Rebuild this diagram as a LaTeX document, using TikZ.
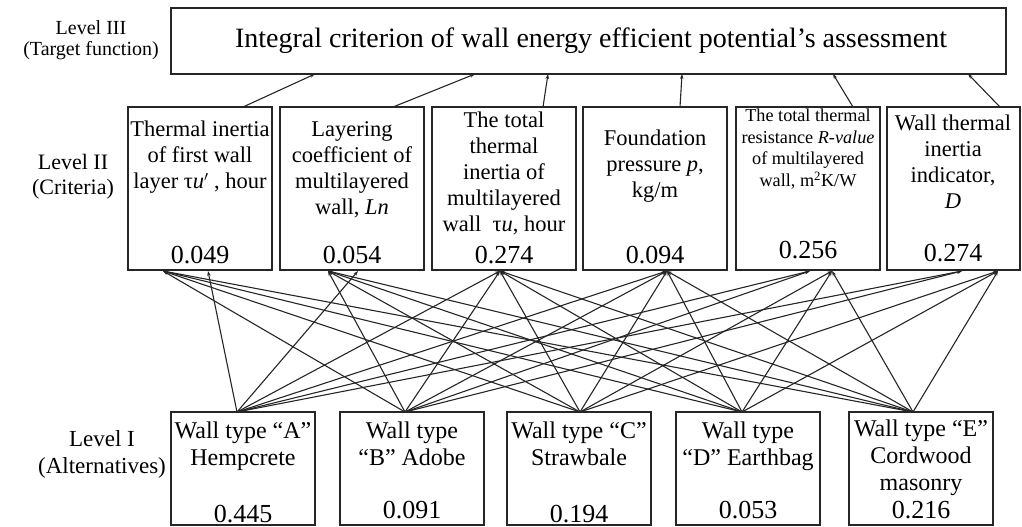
\documentclass[tikz,border=0pt]{standalone}
\usepackage{fontspec}
\setmainfont{Liberation Serif}
\usetikzlibrary{arrows.meta}
\begin{document}
\begin{tikzpicture}[x=1pt,y=-1pt,
  box/.style={draw=black!85,line width=1.5pt,anchor=north west,inner sep=0pt,outer sep=0pt},
  crit/.style={minimum width=144pt,minimum height=163pt},
  alt/.style={minimum width=144pt,minimum height=113pt},
  txt/.style={anchor=north,align=center,inner sep=0pt,font=\fontsize{22.5}{26}\selectfont},
  alttxt/.style={anchor=north,align=center,inner sep=0pt,font=\fontsize{24}{27}\selectfont},
  smalltxt/.style={anchor=north,align=center,inner sep=0pt,font=\fontsize{18.2}{21.5}\selectfont},
  num/.style={anchor=center,inner sep=0pt,font=\fontsize{26}{28}\selectfont},
  lvl/.style={align=center,inner sep=0pt},
  conn/.style={draw=black!85,line width=1.1pt,-{Stealth[length=5pt,width=3.5pt]}}]
\useasboundingbox (0,0) rectangle (1022,527);

% Level labels
\node[lvl,font=\fontsize{20}{21.5}\selectfont] (l3) at (91,40) {Level III\\(Target function)};
\node[lvl,font=\fontsize{22}{25}\selectfont] (l2) at (73,177) {Level II\\(Criteria)};
\node[lvl,font=\fontsize{23}{27}\selectfont] (l1) at (102,454) {Level I\\(Alternatives)};

% Level III
\node[box,minimum width=835pt,minimum height=66pt] (top) at (171,8) {};
\node[inner sep=0pt,font=\fontsize{28}{32}\selectfont] (toptxt) at (591,41) {Integral criterion of wall energy efficient potential's assessment};

% Level II
\node[box,crit] (c1) at (128,107) {};
\node[box,crit] (c2) at (280,107) {};
\node[box,crit] (c3) at (432,107) {};
\node[box,crit] (c4) at (583,107) {};
\node[box,crit] (c5) at (736,107) {};
\node[box,crit,minimum width=133pt] (c6) at (887,107) {};

\node[txt] (c1t) at (200,121) {Thermal inertia\\of first wall\\layer τ\textit{u}$'$ , hour};
\node[txt] (c2t) at (352,121) {Layering\\coefficient of\\multilayered\\wall, \textit{Ln}};
\node[txt] (c3t) at (504,112) {The total\\thermal\\inertia of\\multilayered\\wall\ \ τ\textit{u}, hour};
\node[txt] (c4t) at (655,130) {Foundation\\pressure \textit{p},\\kg/m};
\node[smalltxt] (c5t) at (808,109) {The total thermal\\resistance \textit{R-value}\\of multilayered\\wall, m\textsuperscript{2}K/W};
\node[txt] (c6t) at (953,115) {Wall thermal\\inertia\\indicator,\\\textit{D}};

\node[num] (c1n) at (200,255) {0.049};
\node[num] (c2n) at (352,255) {0.054};
\node[num] (c3n) at (504,255) {0.274};
\node[num] (c4n) at (655,255) {0.094};
\node[num] (c5n) at (808,250) {0.256};
\node[num] (c6n) at (953,253) {0.274};

% Level I
\node[box,alt] (aA) at (171,412) {};
\node[box,alt] (aB) at (340,412) {};
\node[box,alt] (aC) at (507,412) {};
\node[box,alt] (aD) at (676,412) {};
\node[box,alt] (aE) at (849,412) {};

\node[alttxt] (aAt) at (243,422) {Wall type “A”\\Hempcrete};
\node[alttxt] (aBt) at (412,422) {Wall type\\“B” Adobe};
\node[alttxt] (aCt) at (579,422) {Wall type “C”\\Strawbale};
\node[alttxt] (aDt) at (748,422) {Wall type\\“D” Earthbag};
\node[alttxt] (aEt) at (921,420) {Wall type “E”\\Cordwood\\masonry};

\node[num] (aAn) at (243,514) {0.445};
\node[num] (aBn) at (412,510) {0.091};
\node[num] (aCn) at (579,514) {0.194};
\node[num] (aDn) at (748,510) {0.053};
\node[num] (aEn) at (921,510) {0.216};

% connection points Level II -> Level III
\coordinate (t1) at (243,107); \coordinate (s1) at (315,74);
\coordinate (t2) at (393,107); \coordinate (s2) at (475,74);
\coordinate (t3) at (543,107); \coordinate (s3) at (548,74);
\coordinate (t4) at (680,107); \coordinate (s4) at (682,74);
\coordinate (t5) at (853,107); \coordinate (s5) at (833,74);
\coordinate (t6) at (1000,107); \coordinate (s6) at (968,74);
\foreach \i in {1,...,6} { \draw[conn] (t\i) -- (s\i); }

% connection points Level I -> Level II
\coordinate (pA) at (237,412);
\coordinate (pB) at (405,412);
\coordinate (pC) at (580,412);
\coordinate (pD) at (742,412);
\coordinate (pE) at (913,412);
\coordinate (b1L) at (163,271); \coordinate (b1R) at (208,271);
\coordinate (b2L) at (328,271); \coordinate (b2R) at (358,271);
\coordinate (b3) at (500,271);
\coordinate (b4) at (667,271);
\coordinate (b5L) at (810,271); \coordinate (b5R) at (832,271);
\coordinate (b6L) at (962,271); \coordinate (b6R) at (998,271);

\draw[conn] (pA) -- (b1R);
\foreach \a in {B,C,D,E} { \draw[conn] (p\a) -- (b1L); }
\draw[conn] (pA) -- (b2R);
\foreach \a in {B,C,D,E} { \draw[conn] (p\a) -- (b2L); }
\foreach \a in {A,B,C,D,E} { \draw[conn] (p\a) -- (b3); \draw[conn] (p\a) -- (b4); }
\foreach \a in {A,B} { \draw[conn] (p\a) -- (b5L); \draw[conn] (p\a) -- (b6L); }
\foreach \a in {C,D,E} { \draw[conn] (p\a) -- (b5R); \draw[conn] (p\a) -- (b6R); }
\end{tikzpicture}
\end{document}
